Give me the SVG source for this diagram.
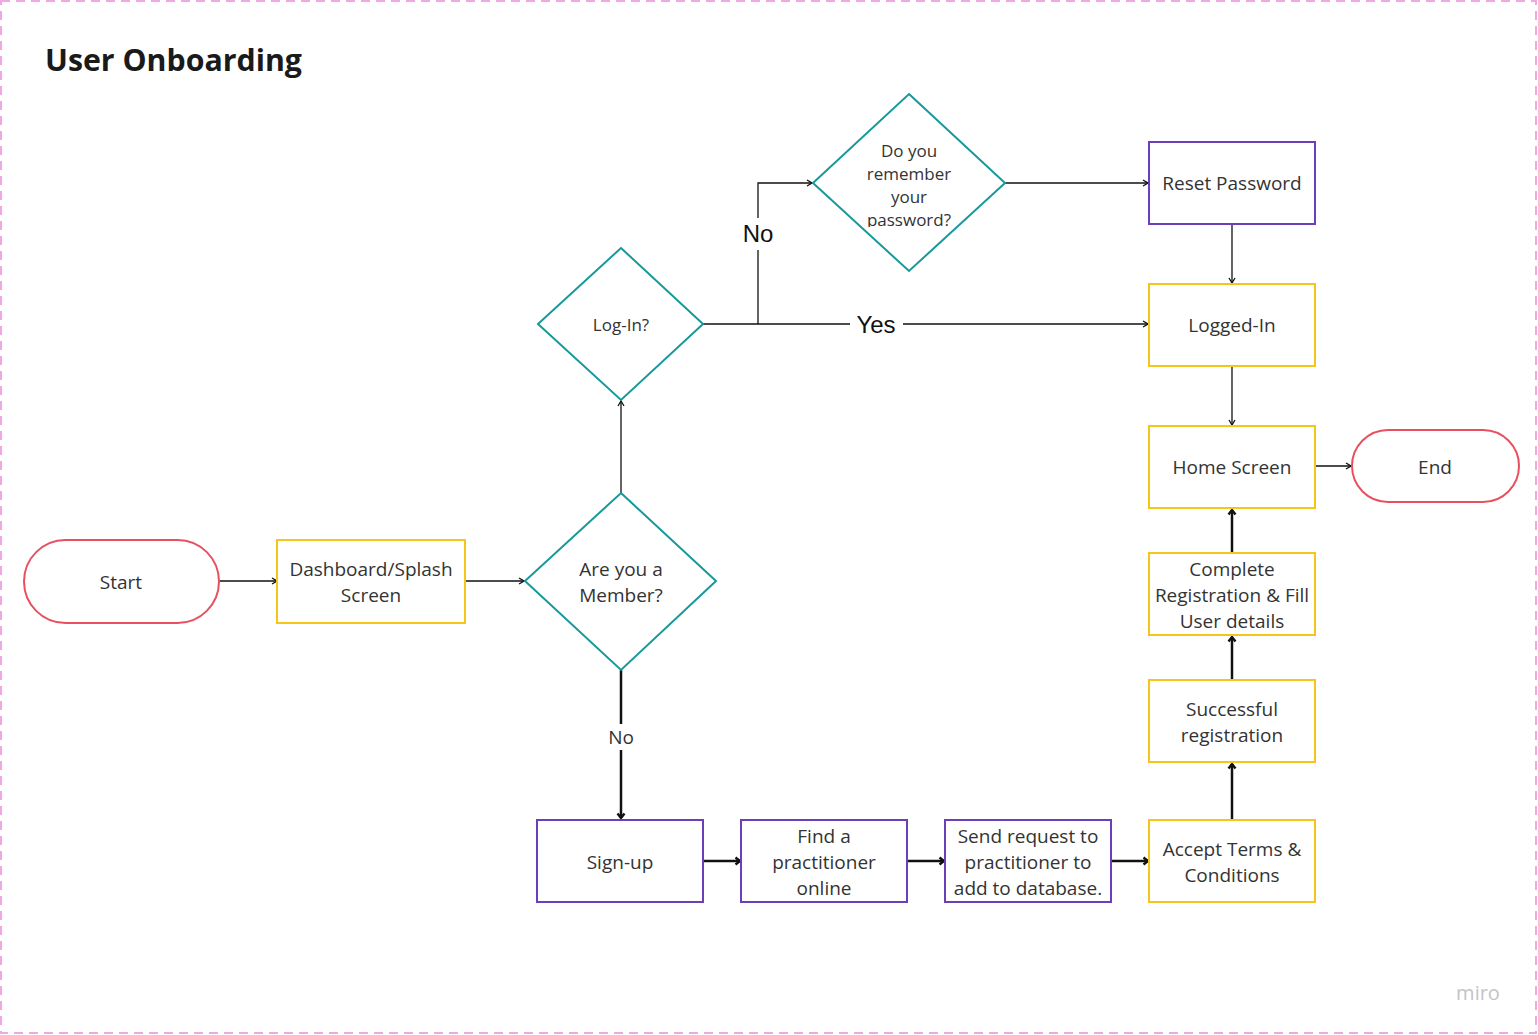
<svg xmlns="http://www.w3.org/2000/svg" width="1538" height="1035" viewBox="0 0 1538 1035">
<style>
.t{font-family:"Open Sans","Noto Sans",sans-serif;font-size:19px;fill:#333;text-anchor:middle}
.s{font-size:17px}
.yel{fill:#fff;stroke:#f5c518;stroke-width:2}
.pur{fill:#fff;stroke:#6b3fb8;stroke-width:2}
.red{fill:#fff;stroke:#e8505f;stroke-width:2}
.dia{fill:#fff;stroke:#17999b;stroke-width:2}
.c1{fill:none;stroke:#111;stroke-width:1.3}
.c2{fill:none;stroke:#111;stroke-width:2.5}
.lbl{font-family:"Liberation Sans",Arial,sans-serif;font-size:24px;fill:#111;text-anchor:middle}
</style>
<defs>
<marker id="a1" viewBox="0 0 8 8" refX="7" refY="4" markerWidth="8" markerHeight="8" markerUnits="userSpaceOnUse" orient="auto">
<path d="M2,1 L7,4 L2,7" fill="none" stroke="#111" stroke-width="1.3"/>
</marker>
<marker id="a2" viewBox="0 0 10 10" refX="8.5" refY="5" markerWidth="10" markerHeight="10" markerUnits="userSpaceOnUse" orient="auto">
<path d="M4,1.5 L8.5,5 L4,8.5" fill="none" stroke="#111" stroke-width="2.4"/>
</marker>
<clipPath id="clipd"><rect x="813" y="94" width="192" height="133"/></clipPath>
</defs>
<rect width="1538" height="1035" fill="#fff"/>
<rect x="1" y="1" width="1535" height="1032" fill="none" stroke="#f0a8e4" stroke-width="2" stroke-dasharray="9,6"/>
<text x="45" y="71" font-family="'Open Sans','Noto Sans',sans-serif" font-size="30.3" font-weight="bold" fill="#1a1a1a">User Onboarding</text>

<g id="connectors">
<line class="c1" x1="219" y1="581" x2="277" y2="581" marker-end="url(#a1)"/>
<line class="c1" x1="465" y1="581" x2="524" y2="581" marker-end="url(#a1)"/>
<line class="c1" x1="621" y1="493" x2="621" y2="401" marker-end="url(#a1)"/>
<path class="c1" d="M703,324 H850 M903,324 H1148" marker-end="url(#a1)"/>
<text class="lbl" x="876" y="333">Yes</text>
<path class="c1" d="M758,324 V250 M758,218 V183 H812" marker-end="url(#a1)"/>
<text class="lbl" x="758" y="242">No</text>
<line class="c1" x1="1005" y1="183" x2="1148" y2="183" marker-end="url(#a1)"/>
<line class="c1" x1="1232" y1="224" x2="1232" y2="283" marker-end="url(#a1)"/>
<line class="c1" x1="1232" y1="366" x2="1232" y2="425" marker-end="url(#a1)"/>
<line class="c1" x1="1315" y1="466" x2="1351" y2="466" stroke-width="1.6" marker-end="url(#a1)"/>
<path class="c2" d="M621,670 V724 M621,750 V818" marker-end="url(#a2)"/>
<text class="t" x="621" y="744">No</text>
<line class="c2" x1="704" y1="861" x2="740" y2="861" marker-end="url(#a2)"/>
<line class="c2" x1="908" y1="861" x2="944" y2="861" marker-end="url(#a2)"/>
<line class="c2" x1="1112" y1="861" x2="1148" y2="861" marker-end="url(#a2)"/>
<line class="c2" x1="1232" y1="820" x2="1232" y2="764" marker-end="url(#a2)"/>
<line class="c2" x1="1232" y1="680" x2="1232" y2="637" marker-end="url(#a2)"/>
<line class="c2" x1="1232" y1="553" x2="1232" y2="510" marker-end="url(#a2)"/>
</g>

<g id="start"><rect class="red" x="24" y="540" width="195" height="83" rx="41.5"/><text class="t" x="121" y="589">Start</text></g>
<g id="dashboard"><rect class="yel" x="277" y="540" width="188" height="83"/><text class="t" x="371" y="576">Dashboard/Splash</text><text class="t" x="371" y="602">Screen</text></g>
<g id="member"><polygon class="dia" points="621,493 716,581 621,670 525,581"/><text class="t" x="621" y="576">Are you a</text><text class="t" x="621" y="602">Member?</text></g>
<g id="login"><polygon class="dia" points="621,248 703,324 621,400 538,324"/><text class="t s" x="621" y="331">Log-In?</text></g>
<g id="remember"><polygon class="dia" points="909,94 1005,183 909,271 813,183"/>
<g clip-path="url(#clipd)"><text class="t s" x="909" y="157">Do you</text><text class="t s" x="909" y="180">remember</text><text class="t s" x="909" y="203">your</text><text class="t s" x="909" y="226">password?</text></g></g>
<g id="reset"><rect class="pur" x="1149" y="142" width="166" height="82"/><text class="t" x="1232" y="190">Reset Password</text></g>
<g id="loggedin"><rect class="yel" x="1149" y="284" width="166" height="82"/><text class="t" x="1232" y="332">Logged-In</text></g>
<g id="home"><rect class="yel" x="1149" y="426" width="166" height="82"/><text class="t" x="1232" y="474">Home Screen</text></g>
<g id="end"><rect class="red" x="1352" y="430" width="167" height="72" rx="36"/><text class="t" x="1435" y="474">End</text></g>
<g id="complete"><rect class="yel" x="1149" y="553" width="166" height="82"/><text class="t" x="1232" y="576">Complete</text><text class="t" x="1232" y="602">Registration &amp; Fill</text><text class="t" x="1232" y="628">User details</text></g>
<g id="successful"><rect class="yel" x="1149" y="680" width="166" height="82"/><text class="t" x="1232" y="716">Successful</text><text class="t" x="1232" y="742">registration</text></g>
<g id="accept"><rect class="yel" x="1149" y="820" width="166" height="82"/><text class="t" x="1232" y="856">Accept Terms &amp;</text><text class="t" x="1232" y="882">Conditions</text></g>
<g id="signup"><rect class="pur" x="537" y="820" width="166" height="82"/><text class="t" x="620" y="869">Sign-up</text></g>
<g id="find"><rect class="pur" x="741" y="820" width="166" height="82"/><text class="t" x="824" y="843">Find a</text><text class="t" x="824" y="869">practitioner</text><text class="t" x="824" y="895">online</text></g>
<g id="send"><rect class="pur" x="945" y="820" width="166" height="82"/><text class="t" x="1028" y="843">Send request to</text><text class="t" x="1028" y="869">practitioner to</text><text class="t" x="1028" y="895">add to database.</text></g>
<text x="1478" y="1000" font-family="'Open Sans','Noto Sans',sans-serif" font-size="20" fill="#c4c4c4" text-anchor="middle">miro</text>
</svg>
